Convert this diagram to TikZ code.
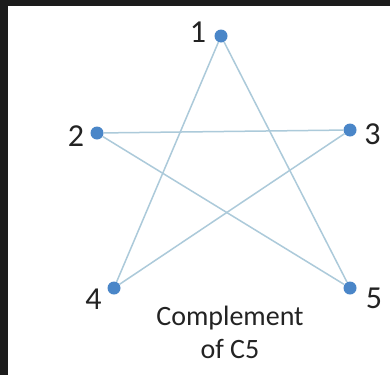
\documentclass[tikz,border=0pt]{standalone}
\usepackage{fontspec}
\setmainfont{Carlito}
\usepackage{xcolor}
\usepackage{tikz}
\usetikzlibrary{positioning}

\definecolor{vertexblue}{RGB}{74,134,200}
\definecolor{edgegray}{RGB}{172,202,218}
\definecolor{frameblack}{RGB}{28,28,28}
\definecolor{textgray}{RGB}{35,35,35}

\begin{document}
\begin{tikzpicture}[
    x=1pt, y=-1pt,
    vertex/.style={circle, fill=vertexblue, inner sep=0pt, minimum size=13pt},
    edge/.style={draw=edgegray, line width=1.5pt},
    num/.style={inner sep=0pt, font=\fontsize{32}{32}\selectfont, text=textgray},
    caption/.style={align=center, inner sep=0pt, font=\fontsize{28}{33}\selectfont, text=textgray}
]
% frame
\fill[frameblack] (0,0) rectangle (390,375);
\fill[white] (8,6) rectangle (390,375);
\useasboundingbox (0,0) rectangle (390,375);

% vertices
\node[vertex] (v1) at (221,36) {};
\node[vertex] (v2) at (97,133) {};
\node[vertex] (v3) at (350,130) {};
\node[vertex] (v4) at (114,288) {};
\node[vertex] (v5) at (350,288) {};

% vertex numbers
\node[num, left=8pt of v1, yshift=4pt] (n1) {1};
\node[num, left=6pt of v2, yshift=-3.5pt] (n2) {2};
\node[num, right=7.5pt of v3, yshift=-4.5pt] (n3) {3};
\node[num, left=5.5pt of v4, yshift=-11pt] (n4) {4};
\node[num, right=9pt of v5, yshift=-10.5pt] (n5) {5};

% edges of the complement
\draw[edge] (v1) -- (v4);
\draw[edge] (v1) -- (v5);
\draw[edge] (v2) -- (v3);
\draw[edge] (v2) -- (v5);
\draw[edge] (v3) -- (v4);

\node[caption] (cap) at (230,332) {Complement\\of C5};
\end{tikzpicture}
\end{document}
